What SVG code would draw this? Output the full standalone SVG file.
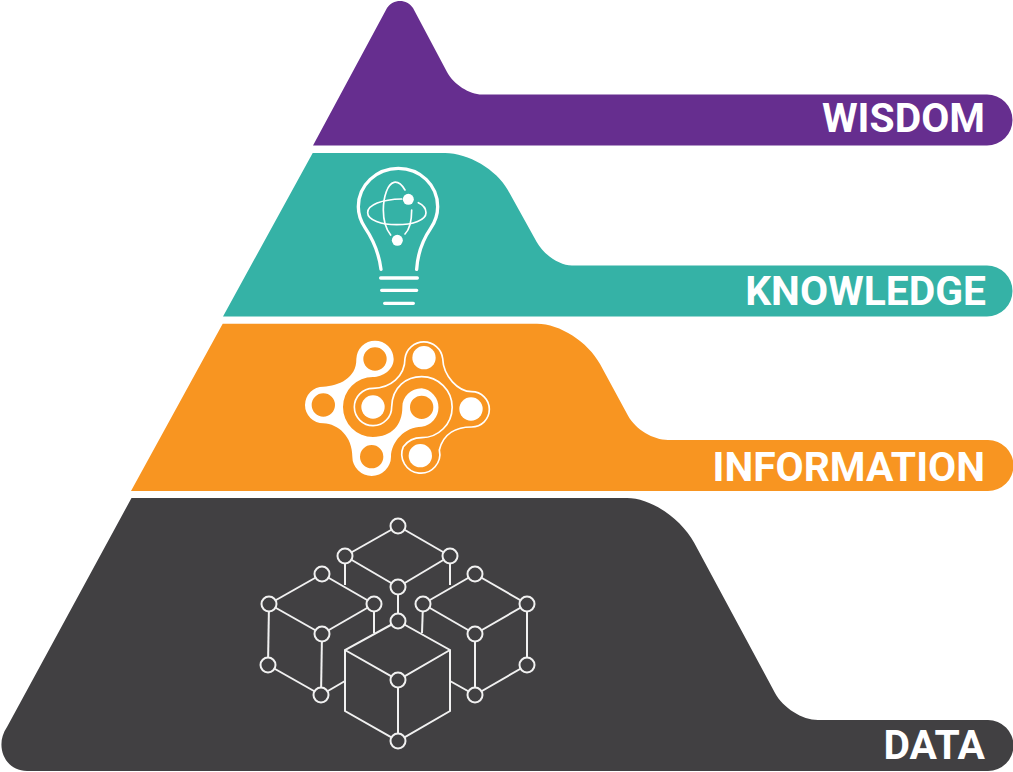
<svg xmlns="http://www.w3.org/2000/svg" width="1013" height="772" viewBox="0 0 1013 772">
<style>
.lbl{font-family:Roboto,"Liberation Sans",sans-serif;font-weight:700;font-size:40.800px;fill:#fff;text-anchor:end}
.w{fill:#fff}
.ln{fill:none;stroke:#fff;stroke-linecap:round}
.cube line,.cube polyline,.cube polygon{fill:none;stroke:#f1f1f1;stroke-width:2}
.cube circle{fill:#414042;stroke:#f1f1f1;stroke-width:2}
</style>
<rect width="1013" height="772" fill="#fff"/>
<g id="wisdom">
<path fill="#662e8f" d="M313 145.500L387 8C393 -1.500 407 -1.500 413 8L447 72C453.600 84.400 469.400 94.500 482 94.500L987 94.500A25.500 25.500 0 0 1 987 145.500Z"/>
<text class="lbl" x="985" y="132">WISDOM</text>
</g>
<g id="knowledge">
<path fill="#35b2a6" d="M223 316.500L312.700 153L445 153C468.200 153 496.500 169.600 507.800 190L536.700 242C543.900 254.900 559.700 265.500 572 265.500L987 265.500A25.500 25.500 0 0 1 987 316.500Z"/>
<g transform="translate(340 155) scale(.33333)">
<path class="ln" stroke-width="10" d="M123 343C117 295 100 255 75 218C62 198 55 180 55 155C55 90 110 40 175 40C240 40 293 90 293 155C293 180 287 198 272 220C248 255 233 295 230 343"/>
<path class="ln" stroke-width="10" d="M122 369H232M125 406H230M134 445H220"/>
<path class="ln" stroke-width="5" d="M185 132C125 133 83 150 83 173C83 195 125 209 170 209C220 209 258 195 258 173C258 160 250 150 235 143"/>
<path class="ln" stroke-width="5" d="M195 105C185 88 172 80 162 82C143 86 130 125 130 165C130 200 140 225 152 240M215 165C215 200 207 225 195 237"/>
<circle class="w" cx="205" cy="133" r="16.500"/><circle class="w" cx="172" cy="256" r="16.500"/>
</g>
<text class="lbl" x="986" y="305">KNOWLEDGE</text>
</g>
<g id="information">
<path fill="#f89521" d="M131 491L222.700 323.700L537 323.700C559.600 323.700 588 341.800 600 364L628.200 416C635.400 429.200 653.300 440 668 440L988 440A25.500 25.500 0 0 1 988 491Z"/>
<g transform="translate(295 330) scale(.33333)">
<path class="w" fill-rule="evenodd" d="M240 32A56 56 0 0 1 296 87C296 120 262 141 234 141A90 90 0 0 0 234 321C290 321 322 285 322 232C322 200 348 175 380 175A58 58 0 0 1 380 290C330 290 288 335 288 380A58 58 0 0 1 172 380C172 320 130 282 85 280A55 55 0 0 1 85 170C130 168 185 145 184 87A56 56 0 0 1 240 32Z
M240 52A35 35 0 1 0 240 122A35 35 0 1 0 240 52Z
M85 190A35 35 0 1 0 85 260A35 35 0 1 0 85 190Z
M230 345A35 35 0 1 0 230 415A35 35 0 1 0 230 345Z
M380 197A35 35 0 1 0 380 267A35 35 0 1 0 380 197Z"/>
<path class="ln" stroke-width="5" d="M330 85A57 57 0 0 1 443 85C445 140 490 185 530 185A53 53 0 0 1 530 291C485 291 445 310 433 360A57 57 0 1 1 325 350C340 330 355 323 380 323A91 91 0 0 0 380 140C335 140 292 170 290 230A56 56 0 1 1 234 175C285 175 330 140 330 85Z"/>
<circle class="w" cx="234" cy="231" r="35"/><circle class="w" cx="387" cy="83" r="35"/><circle class="w" cx="528" cy="237" r="35"/><circle class="w" cx="376" cy="377" r="35"/>
</g>
<text class="lbl" x="985" y="481">INFORMATION</text>
</g>
<g id="data">
<path fill="#414042" d="M131.500 498L627 498C650.600 498 680.900 518.200 694.300 543L775 693C783 707.900 802.300 720 818 720L988 720A25.500 25.500 0 0 1 988 771L27 771C5 771 -6 746 7 727Z"/>
<g class="cube">
<line x1="398" y1="526" x2="345" y2="556"/><line x1="398" y1="526" x2="450" y2="556"/>
<line x1="345" y1="556" x2="398" y2="587"/><line x1="450" y1="556" x2="398" y2="587"/>
<line x1="345" y1="556" x2="345" y2="585"/><line x1="450" y1="556" x2="450" y2="585"/>
<line x1="398" y1="587" x2="398" y2="621"/>
<line x1="322" y1="574" x2="269" y2="604"/><line x1="322" y1="574" x2="374" y2="604"/>
<line x1="269" y1="604" x2="322" y2="634"/><line x1="374" y1="604" x2="322" y2="634"/>
<line x1="269" y1="604" x2="268" y2="665"/><line x1="322" y1="634" x2="321" y2="695"/>
<line x1="268" y1="665" x2="321" y2="695"/><line x1="321" y1="695" x2="345" y2="681"/>
<line x1="374" y1="604" x2="374" y2="633"/>
<line x1="475" y1="574" x2="423" y2="604"/><line x1="475" y1="574" x2="527" y2="604"/>
<line x1="423" y1="604" x2="475" y2="634"/><line x1="527" y1="604" x2="475" y2="634"/>
<line x1="527" y1="604" x2="527" y2="665"/><line x1="475" y1="634" x2="475" y2="695"/>
<line x1="527" y1="665" x2="475" y2="695"/><line x1="475" y1="695" x2="450" y2="681"/>
<line x1="423" y1="604" x2="422" y2="633"/>
<polygon points="398,621 450,650 450,711 398,741 345,711 345,650"/>
<polyline points="345,650 398,680 450,650"/>
<line x1="398" y1="680" x2="398" y2="741"/>
<circle cx="398" cy="526" r="7.500"/><circle cx="345" cy="556" r="7.500"/><circle cx="450" cy="556" r="7.500"/><circle cx="398" cy="587" r="7.500"/>
<circle cx="322" cy="574" r="7.500"/><circle cx="269" cy="604" r="7.500"/><circle cx="374" cy="604" r="7.500"/><circle cx="322" cy="634" r="7.500"/><circle cx="268" cy="665" r="7.500"/><circle cx="321" cy="695" r="7.500"/>
<circle cx="475" cy="574" r="7.500"/><circle cx="423" cy="604" r="7.500"/><circle cx="527" cy="604" r="7.500"/><circle cx="475" cy="634" r="7.500"/><circle cx="527" cy="665" r="7.500"/><circle cx="475" cy="695" r="7.500"/>
<circle cx="398" cy="621" r="7.500"/><circle cx="398" cy="680" r="7.500"/><circle cx="398" cy="741" r="7.500"/>
</g>
<text class="lbl" x="985" y="759">DATA</text>
</g>
</svg>
